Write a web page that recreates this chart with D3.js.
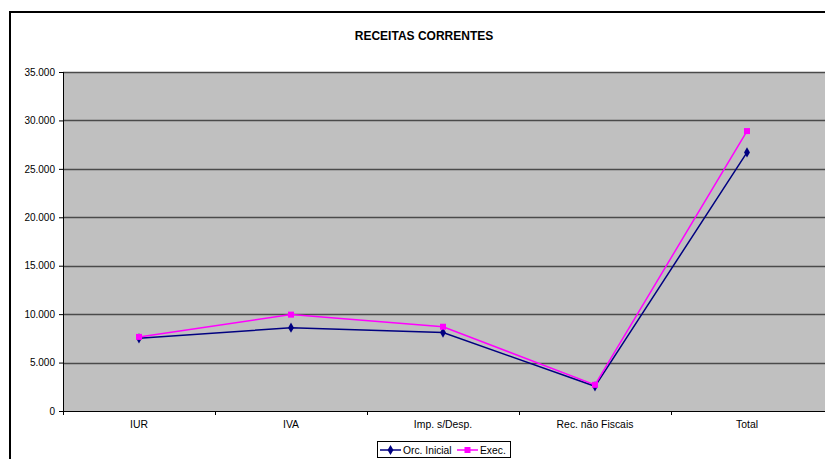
<!DOCTYPE html>
<html><head><meta charset="utf-8">
<script src="https://cdn.jsdelivr.net/npm/d3@7/dist/d3.min.js"></script>
<style>body{margin:0;background:#fff;}svg{display:block;font-family:"Liberation Sans",Arial,sans-serif;}</style>
</head><body><svg id="c" width="825" height="459"></svg>
<script>
const categories = ["IUR","IVA","Imp. s/Desp.","Rec. não Fiscais","Total"];
const orcInicial = [7500, 8600, 8100, 2550, 26700];
const exec = [7650, 9950, 8700, 2700, 28900];
const yTicks = [0,5000,10000,15000,20000,25000,30000,35000];
const seriesNames = ["Orc. Inicial","Exec."];

const svg = d3.select("#c");
const L=63, R=823, T=72, B=411;
svg.append("rect").attr("x",10).attr("y",12).attr("width",830).attr("height",460)
  .attr("fill","#fff").attr("stroke","#000").attr("stroke-width",2);
svg.append("text").attr("x",424).attr("y",40).attr("text-anchor","middle")
  .attr("font-size",12).attr("font-weight","bold").text("RECEITAS CORRENTES");

const x = d3.scaleBand().domain(categories).range([L,R]);
const y = d3.scaleLinear().domain([0,35000]).range([B,T]);
svg.append("rect").attr("x",L).attr("y",T).attr("width",830-L).attr("height",B-T).attr("fill","#C0C0C0");
svg.append("g").selectAll("line").data(yTicks.filter(d=>d>0)).join("line")
  .attr("x1",L).attr("x2",830).attr("y1",d=>Math.round(y(d))+0.5).attr("y2",d=>Math.round(y(d))+0.5)
  .attr("stroke","#4a4a4a").attr("stroke-width",1.3);

const yAx = svg.append("g").attr("transform",`translate(${L},0)`)
  .call(d3.axisLeft(y).tickValues(yTicks).tickSize(4).tickPadding(4)
    .tickFormat(d=>d3.format(",")(d).replace(/,/g,".")));
yAx.select(".domain").remove();
yAx.selectAll("line").attr("stroke","#000");
yAx.selectAll("text").attr("font-size",10).attr("fill","#000").attr("font-family","Liberation Sans, Arial, sans-serif");
svg.append("line").attr("x1",L+0.5).attr("x2",L+0.5).attr("y1",T).attr("y2",B).attr("stroke","#000");

const xAx = svg.append("g").attr("transform",`translate(0,${B})`)
  .call(d3.axisBottom(x).tickSize(0).tickPadding(10));
xAx.select(".domain").remove();
xAx.selectAll("text").attr("font-size",10.4).attr("fill","#000").attr("font-family","Liberation Sans, Arial, sans-serif");
const bounds = categories.map(c=>x(c));
svg.append("g").selectAll("line").data(bounds).join("line")
  .attr("x1",d=>d+0.5).attr("x2",d=>d+0.5).attr("y1",B).attr("y2",B+4).attr("stroke","#000");
svg.append("line").attr("x1",L).attr("x2",830).attr("y1",B+0.5).attr("y2",B+0.5).attr("stroke","#000");

const cx = c=>x(c)+x.bandwidth()/2;
const line = d3.line().x((d,i)=>cx(categories[i])).y(d=>y(d));
svg.append("path").datum(orcInicial).attr("d",line).attr("fill","none").attr("stroke","#000080").attr("stroke-width",1.5);
svg.append("path").datum(exec).attr("d",line).attr("fill","none").attr("stroke","#FF00FF").attr("stroke-width",1.5);
const diamond = d3.symbol().type(d3.symbolDiamond).size(30);
svg.append("g").selectAll("path").data(orcInicial).join("path")
  .attr("d",diamond).attr("transform",(d,i)=>`translate(${cx(categories[i])},${y(d)})`).attr("fill","#000080");
svg.append("g").selectAll("rect").data(exec).join("rect")
  .attr("x",(d,i)=>cx(categories[i])-3).attr("y",d=>y(d)-3).attr("width",6).attr("height",6).attr("fill","#FF00FF");

const lg = svg.append("g");
lg.append("rect").attr("x",377.5).attr("y",441.5).attr("width",133).attr("height",16).attr("fill","#fff").attr("stroke","#000");
const cols = ["#000080","#FF00FF"];
const lx = [380, 457];
seriesNames.forEach((n,i)=>{
  lg.append("line").attr("x1",lx[i]).attr("x2",lx[i]+21).attr("y1",450).attr("y2",450).attr("stroke",cols[i]).attr("stroke-width",1.5);
  if(i===0) lg.append("path").attr("d",diamond).attr("transform",`translate(${lx[i]+10.5},450)`).attr("fill",cols[i]);
  else lg.append("rect").attr("x",lx[i]+7.5).attr("y",447).attr("width",6).attr("height",6).attr("fill",cols[i]);
  lg.append("text").attr("x",lx[i]+23).attr("y",454).attr("font-size",10.3).attr("fill","#000").text(n);
});
</script></body></html>
